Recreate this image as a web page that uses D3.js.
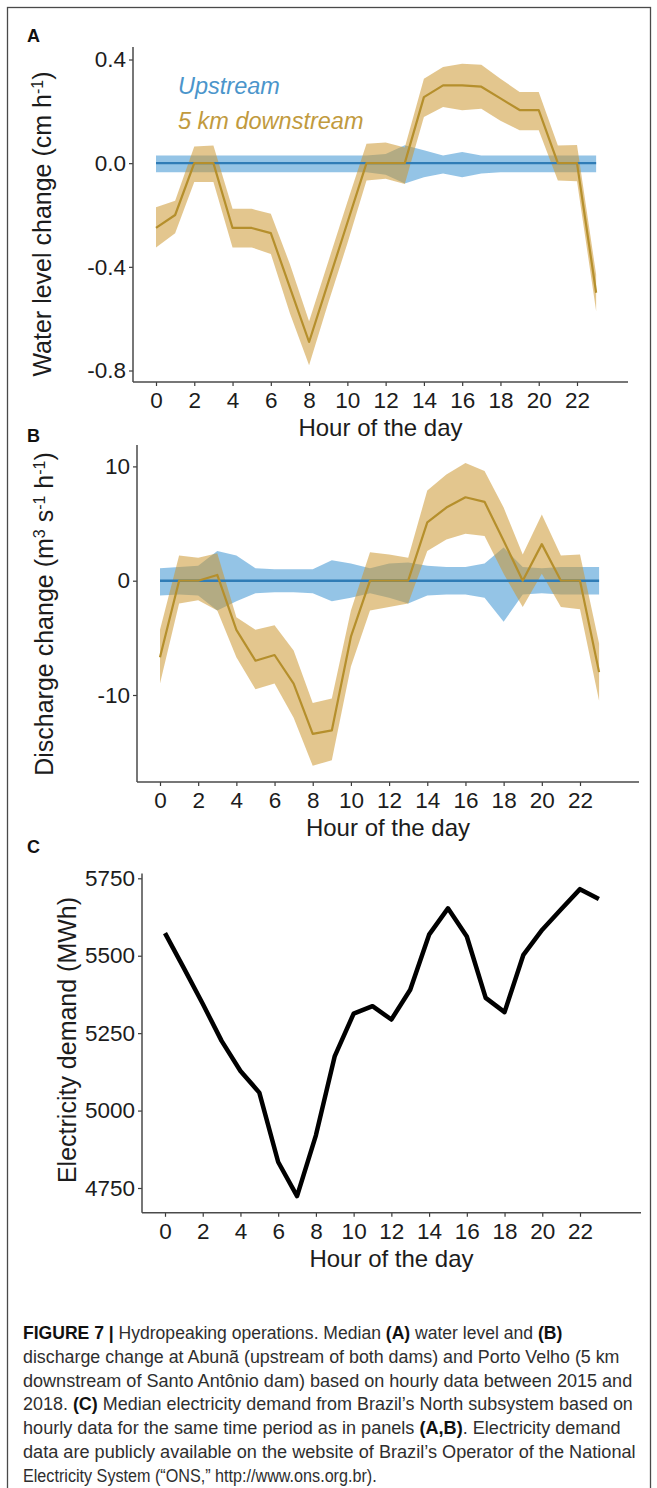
<!DOCTYPE html>
<html><head><meta charset="utf-8">
<script src="https://cdn.jsdelivr.net/npm/d3@7"></script>
<style>body{margin:0;background:#fff}svg{display:block}</style>
</head><body><div id="chart"></div>
<script>
// ---------------- DATA ----------------
const hours = [0,1,2,3,4,5,6,7,8,9,10,11,12,13,14,15,16,17,18,19,20,21,22,23];
const xTicks = [0,2,4,6,8,10,12,14,16,18,20,22];

// Panel A: water level change (cm h-1)
const upA    = [0,0,0,0,0,0,0,0,0,0,0,0,0,0,0,0,0,0,0,0,0,0,0,0];
const upA_lo = [-0.035,-0.035,-0.035,-0.035,-0.035,-0.035,-0.035,-0.035,-0.035,-0.035,-0.035,-0.035,-0.045,-0.078,-0.054,-0.04,-0.054,-0.04,-0.035,-0.035,-0.035,-0.035,-0.035,-0.035];
const upA_hi = [0.03,0.03,0.03,0.03,0.03,0.03,0.03,0.03,0.03,0.03,0.03,0.03,0.035,0.069,0.05,0.03,0.043,0.03,0.03,0.03,0.03,0.03,0.03,0.03];
const dnA    = [-0.25,-0.20,0.00,0.00,-0.25,-0.25,-0.27,-0.48,-0.69,-0.46,-0.23,0.00,0.00,0.00,0.255,0.30,0.30,0.295,0.25,0.205,0.205,0.00,0.00,-0.50];
const dnA_lo = [-0.325,-0.27,-0.073,-0.073,-0.325,-0.325,-0.35,-0.58,-0.78,-0.54,-0.31,-0.067,-0.06,-0.08,0.178,0.217,0.204,0.21,0.164,0.127,0.127,-0.067,-0.07,-0.57];
const dnA_hi = [-0.17,-0.145,0.064,0.068,-0.176,-0.176,-0.195,-0.39,-0.61,-0.38,-0.15,0.075,0.08,0.06,0.326,0.371,0.384,0.38,0.326,0.275,0.275,0.068,0.07,-0.43];
const yTicksA = [-0.8,-0.4,0.0,0.4];
const yLabelsA = ["-0.8","-0.4","0.0","0.4"];

// Panel B: discharge change (m3 s-1 h-1)
const upB    = [0,0,0,0,0,0,0,0,0,0,0,0,0,0,0,0,0,0,0,0,0,0,0,0];
const upB_lo = [-1.3,-1.2,-1.3,-2.6,-1.8,-1.1,-1.0,-1.0,-1.1,-1.8,-1.5,-1.1,-1.5,-2.0,-1.3,-1.2,-1.2,-1.5,-3.6,-1.2,-1.1,-1.2,-1.2,-1.2];
const upB_hi = [1.1,1.2,1.3,2.6,2.2,1.1,1.0,1.0,1.0,1.8,1.5,1.1,1.5,1.6,1.3,1.2,1.2,1.5,2.9,1.2,1.1,1.2,1.2,1.2];
const dnB    = [-6.7,0,0,0.5,-4.3,-7.0,-6.5,-9.0,-13.4,-13.1,-4.9,0,0,0,5.1,6.4,7.3,6.9,3.5,0,3.2,0,0,-8.0];
const dnB_lo = [-9.0,-2.0,-1.7,-2.6,-6.7,-9.5,-9.0,-12.0,-16.2,-15.7,-7.5,-2.6,-2.3,-2.0,2.6,3.6,4.1,3.9,0.6,-2.3,0.6,-2.3,-2.5,-10.5];
const dnB_hi = [-4.3,2.2,2.0,2.4,-3.2,-4.3,-3.9,-6.1,-10.7,-10.3,-2.6,2.5,2.3,2.0,7.9,9.3,10.3,9.6,6.4,2.3,5.8,2.2,2.3,-5.5];
const yTicksB = [-10,0,10];
const yLabelsB = ["-10","0","10"];

// Panel C: electricity demand (MWh)
const demand = [5573,5460,5345,5225,5128,5058,4834,4724,4920,5176,5313,5337,5294,5390,5568,5653,5562,5364,5318,5503,5584,5650,5715,5683];
const yTicksC = [4750,5000,5250,5500,5750];
const yLabelsC = ["4750","5000","5250","5500","5750"];

const legendLabels = ["Upstream","5 km downstream"];

// ---------------- LAYOUT ----------------
const W = 657, H = 1488;
const FONT = "'Liberation Sans', Arial, Helvetica, sans-serif";
const BLUE_LINE = "#2f7cb6", BLUE_FILL = "#4d9dd6";
const GOLD_LINE = "#b58f2c", GOLD_FILL = "#cc9832";
const TICK_FS = "22.5px", XT_FS = "24px", YT_FS = "25px";

const svg = d3.select("#chart").append("svg")
  .attr("width", W).attr("height", H)
  .style("font-family", FONT);
svg.append("rect").attr("width", W).attr("height", H).attr("fill", "#fff");
svg.append("rect").attr("x", 7.5).attr("y", 7.5).attr("width", 643).attr("height", 1485)
  .attr("fill", "none").attr("stroke", "#4a4a4a").attr("stroke-width", 1.3);

function panel(cfg) {
  const g = svg.append("g");
  const x = d3.scaleLinear().domain([0, 22]).range([cfg.x0, cfg.x22]);
  const y = d3.scaleLinear().domain(cfg.yDom).range(cfg.yRng);

  const area = (lo, hi) => d3.area().x((d, i) => x(hours[i])).y0((d, i) => y(lo[i])).y1((d, i) => y(hi[i]))(hours);
  const line = (v) => d3.line().x((d, i) => x(hours[i])).y((d, i) => y(v[i]))(hours);
  (cfg.ribbons || []).forEach(r => {
    g.append("path").attr("d", area(r.lo, r.hi)).attr("fill", r.fill).attr("fill-opacity", r.op);
  });
  (cfg.lines || []).forEach(l => {
    g.append("path").attr("d", line(l.v)).attr("fill", "none").attr("stroke", l.color)
      .attr("stroke-width", l.w).attr("stroke-linejoin", "round").attr("stroke-linecap", "butt");
  });

  const ya = g.append("g").attr("transform", `translate(${cfg.axX},0)`)
    .call(d3.axisLeft(y).tickValues(cfg.yTicks).tickFormat((d, i) => cfg.yLabels[i]).tickSize(4).tickPadding(3).tickSizeOuter(0));
  const xa = g.append("g").attr("transform", `translate(0,${cfg.axY})`)
    .call(d3.axisBottom(x).tickValues(xTicks).tickFormat(d3.format("d")).tickSize(4).tickPadding(6).tickSizeOuter(0));
  [ya, xa].forEach(a => {
    a.select(".domain").remove();
    a.selectAll(".tick line").attr("stroke", "#3a3a3a").attr("stroke-width", 1.2);
    a.selectAll(".tick text").attr("fill", "#1c1c1c").style("font-size", TICK_FS).style("font-family", FONT);
  });
  g.append("line").attr("x1", cfg.axX).attr("x2", cfg.axX).attr("y1", cfg.yTop).attr("y2", cfg.axY)
    .attr("stroke", "#4a4a4a").attr("stroke-width", 1.5);
  g.append("line").attr("x1", cfg.axX).attr("x2", cfg.xEnd).attr("y1", cfg.axY).attr("y2", cfg.axY)
    .attr("stroke", "#4a4a4a").attr("stroke-width", 1.5);

  g.append("text").attr("x", (cfg.axX + cfg.xEnd) / 2).attr("y", cfg.axY + 54)
    .attr("text-anchor", "middle").style("font-size", XT_FS).attr("fill", "#1c1c1c").text("Hour of the day");
  const yt = g.append("text").attr("transform", `translate(${cfg.ytX},${cfg.ytY}) rotate(-90)`)
    .attr("text-anchor", "middle").style("font-size", YT_FS).attr("fill", "#1c1c1c");
  cfg.yTitle.forEach(p => {
    const t = yt.append("tspan").text(p.t);
    if (p.sup) t.attr("baseline-shift", "super").style("font-size", "16px");
  });
  g.append("text").attr("x", 27).attr("y", cfg.letterY).style("font-size", "18px")
    .style("font-weight", "bold").attr("fill", "#111").text(cfg.letter);
  return { g, x, y };
}

const pA = panel({
  letter: "A", letterY: 42,
  x0: 156, x22: 577, axX: 133, xEnd: 628, axY: 382, yTop: 47,
  yDom: [-0.8, 0.4], yRng: [370.5, 59.5],
  yTicks: yTicksA, yLabels: yLabelsA, ytX: 51, ytY: 224,
  yTitle: [{ t: "Water level change (cm h" }, { t: "-1", sup: true }, { t: ")" }],
  ribbons: [{ lo: upA_lo, hi: upA_hi, fill: BLUE_FILL, op: 0.6 }, { lo: dnA_lo, hi: dnA_hi, fill: GOLD_FILL, op: 0.55 }],
  lines: [{ v: upA, color: BLUE_LINE, w: 2.4 }, { v: dnA, color: GOLD_LINE, w: 2.2 }]
});
pA.g.append("text").attr("x", 178).attr("y", 94).style("font-size", "23.5px").style("font-style", "italic")
  .attr("fill", "#4b95cb").text(legendLabels[0]);
pA.g.append("text").attr("x", 178).attr("y", 129).style("font-size", "23.5px").style("font-style", "italic")
  .attr("fill", "#c19a3e").text(legendLabels[1]);

panel({
  letter: "B", letterY: 442,
  x0: 160, x22: 580, axX: 137, xEnd: 639, axY: 782, yTop: 445,
  yDom: [-10, 10], yRng: [695, 466.4],
  yTicks: yTicksB, yLabels: yLabelsB, ytX: 53, ytY: 614,
  yTitle: [{ t: "Discharge change (m" }, { t: "3", sup: true }, { t: " s" }, { t: "-1", sup: true }, { t: " h" }, { t: "-1", sup: true }, { t: ")" }],
  ribbons: [{ lo: upB_lo, hi: upB_hi, fill: BLUE_FILL, op: 0.6 }, { lo: dnB_lo, hi: dnB_hi, fill: GOLD_FILL, op: 0.55 }],
  lines: [{ v: upB, color: BLUE_LINE, w: 2.4 }, { v: dnB, color: GOLD_LINE, w: 2.2 }]
});

panel({
  letter: "C", letterY: 853,
  x0: 165, x22: 580, axX: 142, xEnd: 641, axY: 1212.8, yTop: 873.6,
  yDom: [4750, 5750], yRng: [1188, 878.3],
  yTicks: yTicksC, yLabels: yLabelsC, ytX: 76, ytY: 1040,
  yTitle: [{ t: "Electricity demand (MWh)" }],
  lines: [{ v: demand, color: "#000", w: 4.5 }]
});

// ---------------- CAPTION ----------------
const captionLines = [
  [["FIGURE 7 | ", 1], ["Hydropeaking operations. Median ", 0], ["(A)", 1], [" water level and ", 0], ["(B)", 1]],
  [["discharge change at Abunã (upstream of both dams) and Porto Velho (5 km", 0]],
  [["downstream of Santo Antônio dam) based on hourly data between 2015 and", 0]],
  [["2018. ", 0], ["(C)", 1], [" Median electricity demand from Brazil’s North subsystem based on", 0]],
  [["hourly data for the same time period as in panels ", 0], ["(A,B)", 1], [". Electricity demand", 0]],
  [["data are publicly available on the website of Brazil’s Operator of the National", 0]],
  [["Electricity System (“ONS,” http://www.ons.org.br).", 0]]
];
const captionRight = [563, 620, 633, 633, 621, 636, 377];
const capLeft = 23, capTop = 1339, capStep = 23.8;
captionLines.forEach((segs, i) => {
  const t = svg.append("text").attr("x", 0).attr("y", 0).style("font-size", "18.5px").attr("fill", "#2e2e2e");
  segs.forEach(s => {
    const ts = t.append("tspan").text(s[0]);
    if (s[1]) ts.style("font-weight", "bold").attr("fill", "#111");
  });
  const w = t.node().getComputedTextLength();
  const sx = (captionRight[i] - capLeft) / w;
  t.attr("transform", `translate(${capLeft},${capTop + i * capStep}) scale(${sx},1)`);
});
</script></body></html>
